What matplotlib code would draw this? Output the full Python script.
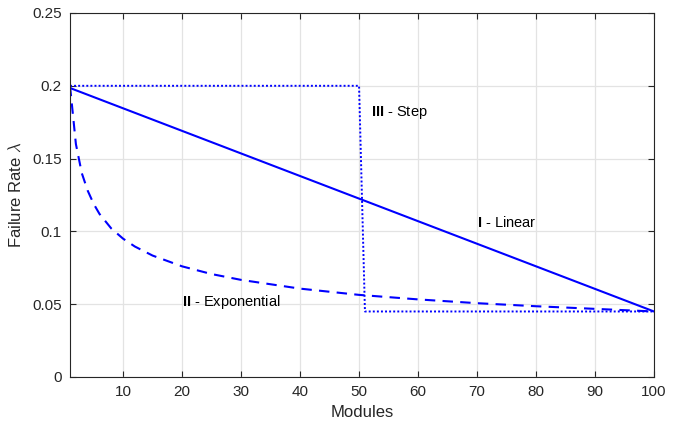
import matplotlib
matplotlib.use("Agg")
import matplotlib.pyplot as plt
import numpy as np

plt.rcParams['font.family'] = ['Liberation Sans', 'DejaVu Sans']
plt.rcParams['mathtext.fontset'] = 'cm'
plt.rcParams['mathtext.bf'] = 'Liberation Sans:bold'

# Data
lin_x = [1, 100]
lin_y = [0.1985, 0.045]

step_x = [1, 50, 51, 100]
step_y = [0.2, 0.2, 0.045, 0.045]

exp_x = [1, 2, 3, 4, 5, 6, 8, 10, 12, 15, 20, 25, 30, 40, 50, 60, 70, 80, 90, 100]
exp_y = [0.2, 0.160, 0.140, 0.128, 0.119, 0.112, 0.102, 0.095, 0.0896, 0.0834,
         0.076, 0.0707, 0.0667, 0.0607, 0.0564, 0.0533, 0.0507, 0.0486, 0.0468, 0.045]

x_ticks = [10, 20, 30, 40, 50, 60, 70, 80, 90, 100]
y_ticks = [0, 0.05, 0.1, 0.15, 0.2, 0.25]
y_tick_labels = ['0', '0.05', '0.1', '0.15', '0.2', '0.25']

numerals = ['I', 'II', 'III']
names = ['Linear', 'Exponential', 'Step']
label_pos = [(70, 0.106), (20, 0.0516), (52, 0.1817)]

fig = plt.figure(figsize=(6.81, 4.28), dpi=100)
ax = fig.add_axes([70/681, 51/428, 584/681, 364/428])

blue = '#0000ff'
ax.plot(lin_x, lin_y, color=blue, lw=1.5, linestyle='-')
ax.plot(exp_x, exp_y, color=blue, lw=1.5, linestyle=(0, (5, 3.5)))
ax.plot(step_x, step_y, color=blue, lw=1.4, linestyle=(0, (1, 1.1)))

ax.set_xlim(1, 100)
ax.set_ylim(0, 0.25)
ax.set_xticks(x_ticks)
ax.set_yticks(y_ticks)
ax.set_yticklabels(y_tick_labels)
ax.grid(True, color='#e3e3e3', lw=0.9)
ax.set_axisbelow(True)

tc = '#262626'
ax.tick_params(direction='in', top=True, right=True, length=4, width=0.8,
               colors=tc, labelsize=11, pad=6)
for s in ax.spines.values():
    s.set_color(tc)
    s.set_linewidth(0.8)

ax.set_xlabel('Modules', fontsize=12, color=tc, labelpad=4)
ax.set_ylabel(r'Failure Rate $\lambda$', fontsize=12, color=tc, labelpad=6)

for (lx, ly), n, t in zip(label_pos, numerals, names):
    ax.text(lx, ly, r'$\mathbf{' + n + r'}$ - ' + t, fontsize=10.5,
            ha='left', va='center', color='black', math_fontfamily='custom')

fig.savefig('out.png', dpi=100)
